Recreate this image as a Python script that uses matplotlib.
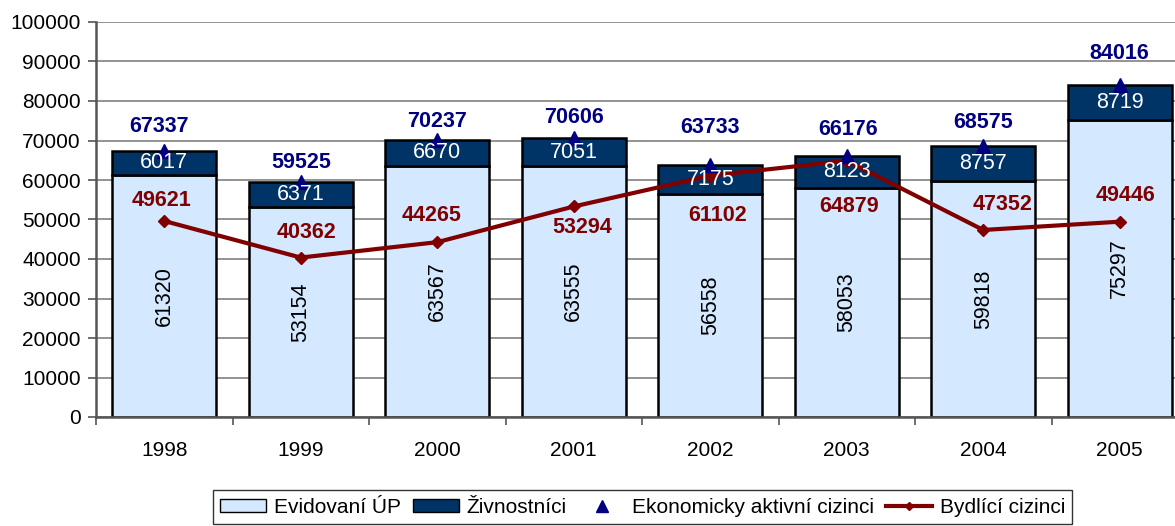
import numpy as np
import matplotlib
matplotlib.use("Agg")
import matplotlib.pyplot as plt
from matplotlib.lines import Line2D
from matplotlib.patches import Patch

plt.rcParams["font.family"] = ["Liberation Sans", "DejaVu Sans"]

years = ["1998", "1999", "2000", "2001", "2002", "2003", "2004", "2005"]
evidovani = [61320, 53154, 63567, 63555, 56558, 58053, 59818, 75297]
zivnostnici = [6017, 6371, 6670, 7051, 7175, 8123, 8757, 8719]
aktivni = [67337, 59525, 70237, 70606, 63733, 66176, 68575, 84016]
bydlici = [49621, 40362, 44265, 53294, 61102, 64879, 47352, 49446]

# label offsets (points), hand placed like in the original
aktivni_offsets = [(-4, 18), (0, 14), (0, 13), (0, 15), (0, 27), (1, 19), (0, 17), (0, 23)]
bydlici_offsets = [(-2, 15), (4, 18), (-4, 19), (6, -15), (5, -29), (2, -33), (14, 18), (4, 19)]

light = "#D4E8FF"
dark = "#003366"
navy = "#000080"
maroon = "#800000"

fig = plt.figure(figsize=(11.75, 5.26), dpi=100)
ax = fig.add_axes([96 / 1175, 109 / 526, 8 * 136.5 / 1175, 395 / 526])

x = np.arange(len(years))
w = 0.76
ax.bar(x, evidovani, w, color=light, edgecolor="black", linewidth=1.8, zorder=2)
ax.bar(x, zivnostnici, w, bottom=evidovani, color=dark, edgecolor="black", linewidth=1.8, zorder=2)
ax.plot(x, bydlici, color=maroon, lw=3, marker="D", ms=6, zorder=4)
ax.plot(x, aktivni, ls="none", marker="^", color=navy, ms=10, zorder=5)

for i in range(len(years)):
    ax.text(x[i], evidovani[i] / 2, str(evidovani[i]), rotation=90, ha="center", va="center",
            fontsize=15.5, color="black", zorder=6)
    ax.text(x[i], evidovani[i] + zivnostnici[i] / 2, str(zivnostnici[i]), ha="center", va="center",
            fontsize=15.5, color="white", zorder=6)
    ax.annotate(str(aktivni[i]), (x[i], aktivni[i]), xytext=aktivni_offsets[i], textcoords="offset points",
                ha="center", va="center", fontsize=15.5, fontweight="bold", color=navy, zorder=6)
    ax.annotate(str(bydlici[i]), (x[i], bydlici[i]), xytext=bydlici_offsets[i], textcoords="offset points",
                ha="center", va="center", fontsize=15.5, fontweight="bold", color=maroon, zorder=6)

ax.set_xlim(-0.5, len(years) - 0.5)
ax.set_ylim(0, 100000)
ax.set_yticks(np.arange(0, 100001, 10000))
ax.yaxis.grid(True, color="#808080", lw=1.2)
ax.set_axisbelow(True)
ax.set_xticks(x)
ax.set_xticklabels(years)
ax.set_xticks(np.arange(-0.5, len(years), 1), minor=True)
ax.tick_params(axis="x", which="major", length=0, pad=17, labelsize=15)
ax.tick_params(axis="x", which="minor", length=6, width=1.2, color="#555555", direction="out")
ax.tick_params(axis="y", length=6, width=1.2, color="#555555", labelsize=15, pad=5)
for s in ["top", "right"]:
    ax.spines[s].set_visible(False)
for s in ["left", "bottom"]:
    ax.spines[s].set_color("#555555")
    ax.spines[s].set_linewidth(1.8)

handles = [
    Patch(facecolor=light, edgecolor="black", label="Evidovaní ÚP"),
    Patch(facecolor=dark, edgecolor="black", label="Živnostníci"),
    Line2D([], [], ls="none", marker="^", color=navy, ms=9, label="Ekonomicky aktivní cizinci"),
    Line2D([], [], color=maroon, lw=3, marker="D", ms=4, label="Bydlící cizinci"),
]
leg = fig.legend(handles=handles, loc="upper center", bbox_to_anchor=(0.547, 0.068), ncol=4,
                 fontsize=15, frameon=True, fancybox=False, edgecolor="black",
                 handlelength=2.2, handleheight=0.6, handletextpad=0.35, columnspacing=0.6,
                 borderpad=0.35, borderaxespad=0)
leg.get_frame().set_linewidth(1)

fig.savefig("out.png", dpi=100)
